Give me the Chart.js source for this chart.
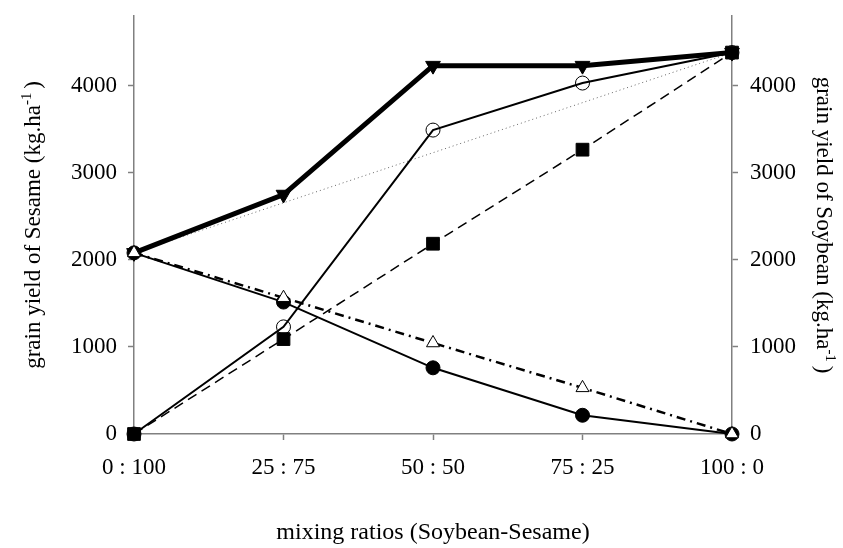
<!DOCTYPE html>
<html>
<head>
<meta charset="utf-8">
<script src="https://cdn.jsdelivr.net/npm/chart.js@4"></script>
<style>
  html, body { margin: 0; padding: 0; background: #fff; }
</style>
</head>
<body>
<canvas id="chart" width="843" height="548"></canvas>
<script>
// Mixing ratios on the x axis
const ratios = ["0 : 100", "25 : 75", "50 : 50", "75 : 25", "100 : 0"];

// Series (kg/ha)
const totalYield = [2080, 2750, 4230, 4230, 4380];        // filled down triangles, thick
const soybeanYield = [0, 1230, 3490, 4030, 4380];         // open circles
const soybeanExpected = [0, 1090, 2185, 3265, 4380];      // filled squares, dashed
const totalExpected = [2080, null, null, null, 4380];     // dotted line, end points only
const sesameYield = [2080, 1515, 760, 215, 0];            // filled circles
const sesameExpected = [2080, 1565, 1045, 530, 0];        // open triangles, dash-dot

const yTicks = [0, 1000, 2000, 3000, 4000];

const xTitle = "mixing ratios (Soybean-Sesame)";
const leftTitle = ["grain yield of Sesame (kg.ha", "-1", ")"];
const rightTitle = ["grain yield of Soybean (kg.ha", "-1", ")"];

const FONT_FAMILY = "'Liberation Serif', 'Times New Roman', serif";
const AXIS_GREY = "#808080";
const TEXT_SIZE = 23;
const SUP_SIZE = 15;

// Rotated title with a superscript part, centred on (x, y)
const drawTitle = (ctx, [main, sup, close], x, y, angle) => {
    const big = TEXT_SIZE + "px " + FONT_FAMILY;
    const small = SUP_SIZE + "px " + FONT_FAMILY;
    ctx.font = big;
    const mainWidth = ctx.measureText(main).width;
    const closeWidth = ctx.measureText(close).width;
    ctx.font = small;
    const supWidth = ctx.measureText(sup + " ").width;
    const total = mainWidth + supWidth + closeWidth;

    ctx.save();
    ctx.translate(x, y);
    ctx.rotate(angle);
    ctx.textAlign = "left";
    ctx.textBaseline = "alphabetic";
    let pos = -total / 2;
    ctx.font = big;
    ctx.fillText(main, pos, 0);
    pos += mainWidth;
    ctx.font = small;
    ctx.fillText(sup, pos, -9);
    pos += supWidth;
    ctx.font = big;
    ctx.fillText(close, pos, 0);
    ctx.restore();
};

const axisTitles = {
    id: "axisTitles",
    afterDraw(chart) {
        const ctx = chart.ctx;
        const area = chart.chartArea;
        const middle = (area.top + area.bottom) / 2;
        ctx.save();
        ctx.fillStyle = "#000";
        ctx.font = "24px " + FONT_FAMILY;
        ctx.textAlign = "center";
        ctx.textBaseline = "alphabetic";
        ctx.fillText(xTitle, (area.left + area.right) / 2, 539);
        drawTitle(ctx, leftTitle, 40, middle, -Math.PI / 2);
        drawTitle(ctx, rightTitle, 817, middle, Math.PI / 2);
        ctx.restore();
    }
};

const series = (data, opts) => ({
    data,
    borderColor: "#000",
    pointBorderColor: "#000",
    pointBackgroundColor: "#000",
    pointBorderWidth: 1,
    clip: false,
    tension: 0,
    ...opts
});

const yAxis = (position, width, padding) => ({
    type: "linear",
    position,
    min: 0,
    max: 4800,
    afterBuildTicks: scale => { scale.ticks = yTicks.map(value => ({ value })); },
    afterFit: scale => {
        scale.width = width;
        // no extra room for the label halves, the plot keeps its own frame
        scale.paddingTop = 0;
        scale.paddingBottom = 0;
    },
    grid: { drawOnChartArea: false, drawTicks: true, tickLength: 6, tickColor: AXIS_GREY, tickWidth: 1.5 },
    border: { display: true, color: AXIS_GREY, width: 1.5 },
    ticks: { color: "#000", padding, callback: value => String(value), font: { family: FONT_FAMILY, size: TEXT_SIZE } }
});

new Chart(document.getElementById("chart"), {
    type: "line",
    data: {
        labels: ratios,
        // first dataset ends up on top
        datasets: [
            series(sesameExpected, { borderWidth: 2.5, borderDash: [9, 5, 2, 5], pointStyle: "triangle", pointRadius: 7.5, pointBackgroundColor: "#fff" }),
            series(soybeanExpected, { borderWidth: 1.5, borderDash: [10, 6], pointStyle: "rect", pointRadius: 9 }),
            series(totalYield, { borderWidth: 5, pointStyle: "triangle", pointRotation: 180, pointRadius: 8.5 }),
            series(soybeanYield, { borderWidth: 2, pointStyle: "circle", pointRadius: 7, pointBackgroundColor: "rgba(0,0,0,0)" }),
            series(sesameYield, { borderWidth: 2, pointStyle: "circle", pointRadius: 7 }),
            series(totalExpected, { borderWidth: 1, borderColor: "#666", borderDash: [1, 3], pointRadius: 0, spanGaps: true })
        ]
    },
    options: {
        responsive: false,
        animation: false,
        layout: { padding: { top: 16, left: 0, right: 0, bottom: 0 } },
        plugins: { legend: { display: false }, tooltip: { enabled: false } },
        scales: {
            x: {
                type: "category",
                offset: false,
                afterFit: scale => {
                    scale.height = 114;
                    scale.paddingLeft = 0;
                    scale.paddingRight = 0;
                },
                grid: { drawOnChartArea: false, drawTicks: true, tickLength: 6, tickColor: AXIS_GREY, tickWidth: 1.5 },
                border: { display: true, color: AXIS_GREY, width: 1.5 },
                ticks: { color: "#000", padding: 14, maxRotation: 0, font: { family: FONT_FAMILY, size: TEXT_SIZE } }
            },
            y: yAxis("left", 134, 11),
            y2: yAxis("right", 111, 12)
        }
    },
    plugins: [axisTitles]
});
</script>
</body>
</html>
